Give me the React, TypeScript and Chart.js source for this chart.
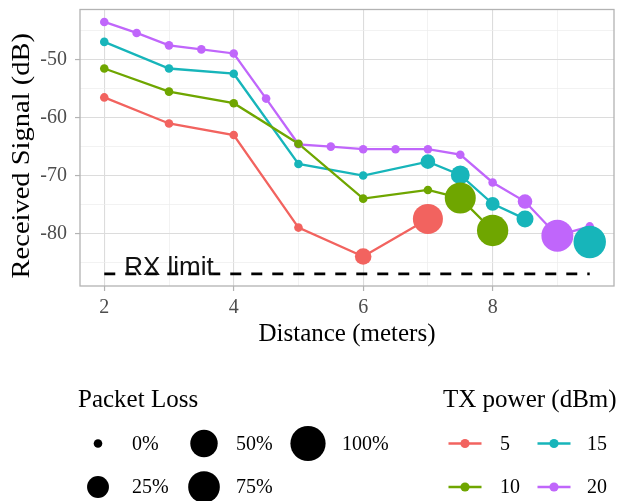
import React, { useEffect, useRef } from "react";
import { Chart, registerables } from "chart.js";

Chart.register(...registerables);

// ---------- data ----------
const seriesNames = ["5", "10", "15", "20"];
const seriesColors = ["#F2635F", "#6FA600", "#17B5BA", "#C066FB"];

const distance5 = [2, 3, 4, 5, 6, 7];
const signal5 = [-56.5, -61, -63, -79, -84, -77.5];
const loss5 = [0, 0, 0, 0, 0.09, 0.65];

const distance10 = [2, 3, 4, 5, 6, 7, 7.5, 8];
const signal10 = [-51.5, -55.5, -57.5, -64.5, -74, -72.5, -73.9, -79.5];
const loss10 = [0, 0, 0, 0, 0, 0, 0.71, 0.73];

const distance15 = [2, 3, 4, 5, 6, 7, 7.5, 8, 8.5, 9, 9.5];
const signal15 = [-46.9, -51.5, -52.4, -68, -70, -67.6, -69.9, -74.9, -77.5, null, -81.5];
const loss15 = [0, 0, 0, 0, 0, 0.05, 0.15, 0.04, 0.1, null, 0.8];

const distance20 = [2, 2.5, 3, 3.5, 4, 4.5, 5, 5.5, 6, 6.5, 7, 7.5, 8, 8.5, 9, 9.5];
const signal20 = [-43.45, -45.35, -47.5, -48.2, -48.9, -56.7, -64.6, -65, -65.45, -65.45, -65.45, -66.4, -71.2, -74.5, -80.4, -78.8];
const loss20 = [0, 0, 0, 0, 0, 0, 0, 0, 0, 0, 0, 0, 0, 0.05, 0.77, 0];

const rxLimit = -87;
const rxLimitStart = 2;
const rxLimitEnd = 9.5;
const rxLabel = "RX limit";
const rxLabelX = 3;

const xMajorTicks = [2, 4, 6, 8];
const yMajorTicks = [-80, -70, -60, -50];

const lossLegendValues = [0, 0.25, 0.5, 0.75, 1];
const lossLegendLabels = ["0%", "25%", "50%", "75%", "100%"];

const xTitle = "Distance (meters)";
const yTitle = "Received Signal (dB)";
const lossTitle = "Packet Loss";
const txTitle = "TX power (dBm)";

// ---------- helpers ----------
const SERIF = "'Liberation Serif', 'Times New Roman', serif";
const SANS = "'Liberation Sans', Arial, sans-serif";

const lossRadius = (loss: number) => 4.3 + 13.3 * Math.sqrt(loss);

const series = [
  { x: distance5, y: signal5, loss: loss5 },
  { x: distance10, y: signal10, loss: loss10 },
  { x: distance15, y: signal15, loss: loss15 },
  { x: distance20, y: signal20, loss: loss20 },
].map((s, i) => ({ ...s, name: seriesNames[i], color: seriesColors[i] }));

const isMajorX = (v: number) => xMajorTicks.some((t) => Math.abs(t - v) < 1e-6);
const isMajorY = (v: number) => yMajorTicks.some((t) => Math.abs(t - v) < 1e-6);

const zeroPad = (s: any) => {
  s.paddingTop = 0;
  s.paddingBottom = 0;
  s.paddingLeft = 0;
  s.paddingRight = 0;
};

const decorPlugin = {
  id: "decor",
  afterDatasetsDraw(chart: any) {
    const { ctx, chartArea, scales } = chart;
    ctx.save();
    // panel border
    ctx.strokeStyle = "#b3b3b3";
    ctx.lineWidth = 1.3;
    ctx.strokeRect(chartArea.left, chartArea.top, chartArea.right - chartArea.left, chartArea.bottom - chartArea.top);
    // RX limit label
    ctx.fillStyle = "#111";
    ctx.font = `26px ${SANS}`;
    ctx.textAlign = "center";
    ctx.textBaseline = "alphabetic";
    ctx.fillText(rxLabel, scales.x.getPixelForValue(rxLabelX), scales.y.getPixelForValue(rxLimit) + 1);
    ctx.restore();
  },
  afterDraw(chart: any) {
    const { ctx, chartArea } = chart;
    ctx.save();
    // y title (rotated)
    ctx.fillStyle = "#000";
    ctx.font = `25px ${SERIF}`;
    ctx.translate(29, (chartArea.top + chartArea.bottom) / 2 + 8);
    ctx.rotate(-Math.PI / 2);
    ctx.scale(1.14, 1);
    ctx.textAlign = "center";
    ctx.textBaseline = "alphabetic";
    ctx.fillText(yTitle, 0, 0);
    ctx.restore();

    ctx.save();
    ctx.fillStyle = "#000";
    ctx.textBaseline = "middle";
    ctx.textAlign = "left";
    ctx.font = `25px ${SERIF}`;
    ctx.fillText(lossTitle, 78, 400);
    ctx.fillText(txTitle, 443, 400);

    // packet loss keys (filled column-wise, 2 rows)
    const colX = [98, 204, 308];
    const labX = [132, 236, 342];
    const rowY = [443.5, 487];
    ctx.font = `20px ${SERIF}`;
    lossLegendValues.forEach((v, i) => {
      const c = Math.floor(i / 2);
      const r = i % 2;
      ctx.fillStyle = "#000";
      ctx.beginPath();
      ctx.arc(colX[c], rowY[r], lossRadius(v), 0, Math.PI * 2);
      ctx.fill();
      ctx.fillText(lossLegendLabels[i], labX[c], rowY[r] + 1);
    });

    // TX power keys
    const txColX = [465, 554];
    const txLabX = [500, 587];
    series.forEach((s, i) => {
      const c = Math.floor(i / 2);
      const r = i % 2;
      ctx.strokeStyle = s.color;
      ctx.lineWidth = 2.4;
      ctx.beginPath();
      ctx.moveTo(txColX[c] - 16.5, rowY[r]);
      ctx.lineTo(txColX[c] + 16.5, rowY[r]);
      ctx.stroke();
      ctx.fillStyle = s.color;
      ctx.beginPath();
      ctx.arc(txColX[c], rowY[r], 4.6, 0, Math.PI * 2);
      ctx.fill();
      ctx.fillStyle = "#000";
      ctx.fillText(s.name, txLabX[c], rowY[r] + 1);
    });
    ctx.restore();
  },
};

export default function App() {
  const canvasRef = useRef<HTMLCanvasElement | null>(null);

  useEffect(() => {
    document.body.style.margin = "0";
    const canvas = canvasRef.current;
    if (!canvas) return;

    const pointSets = series.map((s) => ({
      type: "scatter" as const,
      data: s.x.map((x, j) => ({ x, y: s.y[j] })),
      showLine: false,
      pointRadius: s.loss.map((l) => (l == null ? 0 : lossRadius(l))),
      pointHoverRadius: s.loss.map((l) => (l == null ? 0 : lossRadius(l))),
      pointBackgroundColor: s.color,
      pointBorderWidth: 0,
      borderColor: s.color,
      order: 1,
    }));

    const lineSets = series.map((s) => ({
      type: "scatter" as const,
      data: s.x.map((x, j) => ({ x, y: s.y[j] })),
      showLine: true,
      spanGaps: false,
      borderColor: s.color,
      borderWidth: 2.3,
      pointRadius: 0,
      pointHoverRadius: 0,
      order: 2,
    }));

    const rxSet = {
      type: "scatter" as const,
      data: [
        { x: rxLimitStart, y: rxLimit },
        { x: rxLimitEnd, y: rxLimit },
      ],
      showLine: true,
      borderColor: "#000",
      borderWidth: 2.6,
      borderDash: [11, 10],
      borderCapStyle: "butt",
      pointRadius: 0,
      pointHoverRadius: 0,
      order: 3,
    };

    const chart = new Chart(canvas, {
      type: "scatter",
      data: { datasets: [...pointSets, ...lineSets, rxSet] as any },
      plugins: [decorPlugin],
      options: {
        animation: false,
        responsive: false,
        devicePixelRatio: 1,
        events: [],
        layout: { autoPadding: false, padding: { top: 9.5, right: 3, bottom: 145, left: 0 } },
        plugins: { legend: { display: false }, tooltip: { enabled: false } },
        scales: {
          x: {
            type: "linear",
            min: 1.625,
            max: 9.875,
            afterFit: (s: any) => {
              s.height = 70;
              zeroPad(s);
            },
            border: { display: false },
            grid: {
              color: (c: any) => (c.tick && isMajorX(c.tick.value) ? "#dcdcdc" : "#ececec"),
              lineWidth: (c: any) => (c.tick && isMajorX(c.tick.value) ? 1.1 : 0.7),
              tickColor: (c: any) => (c.tick && isMajorX(c.tick.value) ? "#b3b3b3" : "rgba(0,0,0,0)"),
              tickLength: 5,
              tickWidth: 1.2,
            },
            ticks: {
              stepSize: 1,
              includeBounds: false,
              autoSkip: false,
              maxRotation: 0,
              padding: 5,
              color: "#4d4d4d",
              font: { family: SERIF, size: 20 },
              callback: (v: any) => (isMajorX(Number(v)) ? String(v) : ""),
            },
            title: {
              display: true,
              text: xTitle,
              color: "#000",
              font: { family: SERIF, size: 25 },
              padding: { top: 4, bottom: 7 },
            },
          },
          y: {
            type: "linear",
            min: -89.1,
            max: -41.3,
            afterFit: (s: any) => {
              s.width = 80;
              zeroPad(s);
            },
            border: { display: false },
            grid: {
              color: (c: any) => (c.tick && isMajorY(c.tick.value) ? "#dcdcdc" : "#ececec"),
              lineWidth: (c: any) => (c.tick && isMajorY(c.tick.value) ? 1.1 : 0.7),
              tickColor: (c: any) => (c.tick && isMajorY(c.tick.value) ? "#b3b3b3" : "rgba(0,0,0,0)"),
              tickLength: 5,
              tickWidth: 1.2,
            },
            ticks: {
              stepSize: 5,
              includeBounds: false,
              autoSkip: false,
              padding: 8,
              color: "#4d4d4d",
              font: { family: SERIF, size: 20 },
              callback: (v: any) => (isMajorY(Number(v)) ? String(v) : ""),
            },
            title: { display: false },
          },
        },
      } as any,
    });

    return () => chart.destroy();
  }, []);

  return (
    <div style={{ width: 617, height: 501, position: "relative", background: "#fff" }}>
      <canvas ref={canvasRef} width={617} height={501} style={{ display: "block" }} />
    </div>
  );
}
